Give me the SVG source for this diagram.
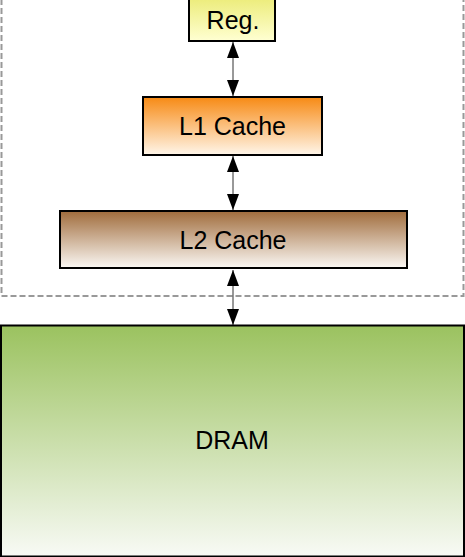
<svg xmlns="http://www.w3.org/2000/svg" width="465" height="557" viewBox="0 0 465 557">
<defs>
<linearGradient id="gReg" x1="0" y1="0" x2="0" y2="1"><stop offset="0" stop-color="#ecec7a"/><stop offset="1" stop-color="#ffffd2"/></linearGradient>
<linearGradient id="gL1" x1="0" y1="0" x2="0" y2="1"><stop offset="0" stop-color="#f78a14"/><stop offset="1" stop-color="#fff6ea"/></linearGradient>
<linearGradient id="gL2" x1="0" y1="0" x2="0" y2="1"><stop offset="0" stop-color="#a06c3c"/><stop offset="1" stop-color="#fbf8f4"/></linearGradient>
<linearGradient id="gDRAM" x1="0" y1="0" x2="0" y2="1"><stop offset="0" stop-color="#9bc25f"/><stop offset="1" stop-color="#f8faf5"/></linearGradient>
<marker id="ah" viewBox="0 0 16 12" refX="16" refY="6" markerWidth="16" markerHeight="12" markerUnits="userSpaceOnUse" orient="auto-start-reverse"><path d="M0,0 L16,6 L0,12 Z" fill="#000"/></marker>
</defs>
<style>
.box{stroke:#000;stroke-width:2}
.lbl{font-family:"Liberation Sans",Arial,sans-serif;font-size:25px;fill:#000;text-anchor:middle}
.conn{stroke:#333;stroke-width:1;fill:none;marker-start:url(#ah);marker-end:url(#ah)}
</style>
<rect width="465" height="557" fill="#fff"/>
<rect id="boundary" x="1.5" y="-10" width="462" height="306" fill="none" stroke="#999" stroke-width="2" stroke-dasharray="6,3"/>
<g id="connectors">
<line class="conn" x1="233" y1="42" x2="233" y2="96"/>
<line class="conn" x1="233" y1="156" x2="233" y2="210"/>
<line class="conn" x1="233" y1="270" x2="233" y2="325"/>
</g>
<g id="reg">
<rect class="box" x="189" y="-2" width="86" height="43" fill="url(#gReg)"/>
<text class="lbl" x="233" y="29">Reg.</text>
</g>
<g id="l1">
<rect class="box" x="143" y="97" width="179" height="58" fill="url(#gL1)"/>
<text class="lbl" x="232.5" y="134.5">L1 Cache</text>
</g>
<g id="l2">
<rect class="box" x="60" y="211" width="347" height="57" fill="url(#gL2)"/>
<text class="lbl" x="233" y="249">L2 Cache</text>
</g>
<g id="dram">
<rect class="box" x="1" y="325.5" width="463" height="231" fill="url(#gDRAM)"/>
<text class="lbl" x="232" y="449">DRAM</text>
</g>
</svg>
